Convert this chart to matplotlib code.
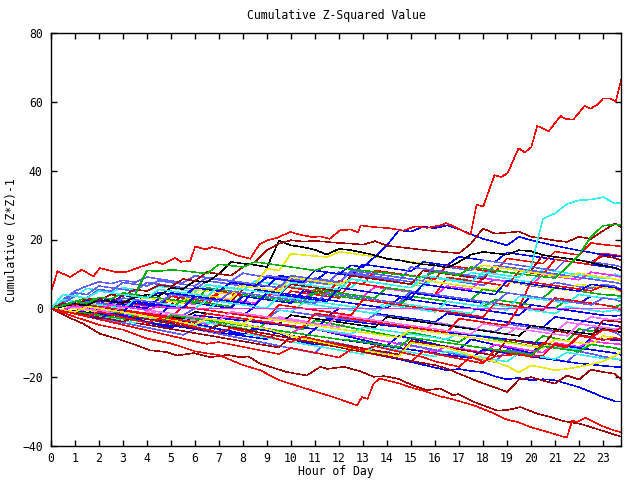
#!/bin/python3
"""
Cumulative (Z*Z)-1 per series over the hours of one day,
redrawn in the look of the old gnuplot png terminal.
"""
import numpy as np
import matplotlib
matplotlib.use("Agg")
import matplotlib.pyplot as plt

RED = "#ff0000"
GREEN = "#00b000"
BLUE = "#0000ff"
MAGENTA = "#ff30ff"
CYAN = "#30f0f0"
DARKRED = "#a00000"
YELLOW = "#e8e800"
BLACK = "#000000"
LIGHTBLUE = "#6060ff"
PINK = "#ff70ff"

# half hourly samples, last one at 23:45
half_hours = list(np.arange(0, 24, 0.5)) + [23.75]

# --- traced lines (own time stamps) ---
red_top_h = [0, 0.27, 0.79, 1.28, 1.77, 2.04, 2.68, 3.15, 3.71, 4.40, 4.66, 5.17, 5.41, 5.80, 6.01,
             6.45, 6.71, 7.24, 7.74, 8.30, 8.53, 8.72, 9.03, 9.42, 9.97, 10.42, 10.91, 11.21, 11.61,
             12.05, 12.50, 12.80, 12.90, 13.49, 14.09, 14.68, 15.18, 15.67, 16.23, 16.47, 16.86,
             17.48, 17.73, 18.01, 18.48, 18.75, 19.02, 19.48, 19.74, 20.01, 20.26, 20.74, 21.23,
             21.43, 21.76, 22.23, 22.48, 22.76, 23.01, 23.26, 23.53, 23.75]
red_top = [4.7, 10.8, 9.1, 11.2, 9.3, 11.7, 10.6, 10.6, 12.0, 13.5, 12.8, 14.7, 13.5, 13.8, 18.0,
           17.1, 17.8, 16.9, 15.4, 14.4, 17.0, 18.8, 19.8, 20.5, 22.2, 21.3, 20.7, 20.9, 20.2,
           22.7, 22.9, 22.0, 24.1, 23.6, 23.3, 22.6, 23.8, 23.4, 24.1, 24.8, 23.5,
           21.4, 30.1, 29.6, 38.7, 38.2, 39.2, 46.5, 45.3, 46.8, 53.0, 51.5, 55.9,
           55.1, 54.8, 58.8, 58.0, 59.2, 61.0, 61.0, 60.2, 66.3]

red_bottom_h = [0, 1, 2, 3, 4, 5, 6, 7, 8, 8.72, 9.52, 10.66, 11.77, 12.76, 12.95, 13.19, 13.44,
                13.69, 14.0, 14.5, 15.0, 15.5, 16.23, 16.67, 17.62, 18.31, 19.01, 19.44, 19.98,
                20.68, 21.49, 21.72, 21.92, 22.28, 22.90, 23.46, 23.75]
red_bottom = [0, -2.5, -4.8, -6.2, -8.8, -10.2, -12.5, -13.6, -16.5, -18.0, -20.9, -23.4, -25.8,
              -28.2, -25.8, -26.3, -21.9, -20.4, -20.9, -21.8, -23.0, -23.9, -25.6, -26.3, -28.2,
              -30.1, -32.4, -33.0, -34.5, -35.9, -37.6, -32.6, -33.0, -31.8, -34.0, -35.5, -36.0]

darkred_bottom_h = [0, 0.69, 1.35, 2.04, 2.74, 3.47, 4.13, 4.82, 5.25, 5.95, 6.64, 7.34, 7.89, 8.23,
                    8.72, 9.82, 10.66, 11.22, 11.51, 12.20, 12.90, 13.44, 13.89, 14.48, 15.08, 15.67,
                    16.23, 16.76, 16.96, 17.62, 18.59, 19.05, 19.56, 20.26, 20.82, 21.37, 22.07,
                    22.77, 23.75]
darkred_bottom = [0, -2.5, -4.5, -7.4, -8.8, -10.5, -12.2, -12.7, -13.7, -13.0, -14.2, -13.5, -14.2,
                  -14.0, -16.1, -18.5, -19.5, -17.0, -17.6, -17.0, -18.3, -19.9, -19.7, -20.5, -22.4,
                  -23.8, -23.3, -25.3, -24.9, -27.2, -29.7, -29.5, -28.7, -30.6, -31.6, -32.8, -33.6,
                  -35.1, -37.3]

# --- half hourly lines ---
cyan_top = [0, 4.0, 3.5, 3.0, 5.0, 4.5, 4.0, 3.5, 3.0, 5.5,
            5.0, 4.5, 4.0, 3.5, 6.5, 6.0, 5.5, 5.0, 4.5, 4.0,
            7.5, 7.0, 6.5, 6.0, 5.5, 8.5, 8.0, 7.5, 7.0, 6.5,
            6.0, 9.5, 9.0, 8.5, 8.0, 7.5, 10.5, 10.0, 9.5, 9.0,
            12.0, 26.0, 27.6, 30.3, 31.4, 31.6, 32.3, 30.5, 30.7]
lightblue_a = [0, 2.5, 5.0, 6.5, 7.7, 7.2, 8.1, 7.6, 9.1, 8.5,
               8.0, 7.4, 9.5, 8.9, 8.3, 7.9, 10.2, 9.6, 9.0, 8.4,
               7.9, 7.3, 8.8, 8.2, 7.6, 10.5, 9.9, 9.3, 8.8, 8.2,
               7.7, 7.1, 9.0, 8.4, 7.8, 7.2, 6.7, 8.4, 7.8, 7.2,
               6.6, 6.1, 7.5, 6.9, 6.3, 5.8, 7.0, 6.4, 5.5]
cyan_b = [0, 1.8, 3.5, 5.8, 5.2, 4.7, 6.0, 5.5, 5.0, 6.4,
          5.9, 5.3, 4.8, 6.9, 6.3, 5.8, 5.2, 8.0, 7.4, 6.9,
          6.3, 5.8, 7.7, 7.1, 6.6, 6.0, 9.2, 8.6, 8.1, 7.5,
          7.0, 6.4, 8.8, 8.3, 7.7, 10.4, 9.8, 9.2, 8.7, 8.1,
          7.6, 11.4, 10.8, 10.2, 9.7, 9.1, 8.6, 10.0, 9.4]
green_up = [0, 0.8, 2.0, 1.5, 3.2, 2.7, 4.5, 4.0, 11.0, 10.8,
            11.2, 10.9, 10.5, 10.1, 12.8, 12.4, 12.0, 13.5, 13.0, 12.5,
            12.0, 11.5, 11.0, 12.2, 11.8, 11.4, 11.0, 10.6, 10.2, 9.8,
            9.4, 9.0, 10.6, 10.2, 9.6, 12.0, 11.5, 11.0, 10.5, 10.0,
            9.6, 9.2, 8.8, 12.0, 15.5, 20.8, 24.0, 24.4, 24.1]
darkred_up = [0, 1.5, 1.0, 2.8, 2.3, 4.0, 3.5, 5.5, 5.0, 6.8,
              6.3, 8.5, 8.0, 10.5, 10.0, 9.5, 12.0, 13.5, 16.9, 18.8,
              19.8, 19.4, 19.6, 19.3, 19.0, 18.8, 18.5, 19.5, 18.2, 17.8,
              17.4, 17.0, 16.6, 16.3, 16.0, 18.8, 23.2, 21.7, 22.0, 22.3,
              20.8, 20.3, 19.7, 19.3, 20.8, 20.2, 22.5, 24.6, 23.7]
black_top = [0, 0.6, 1.2, 0.8, 2.5, 2.0, 1.6, 3.2, 4.0, 3.6,
             6.0, 5.6, 8.0, 7.6, 10.0, 13.5, 13.0, 12.6, 12.0, 19.6,
             18.3, 17.8, 17.0, 15.6, 17.3, 16.9, 16.2, 15.4, 14.4, 14.0,
             13.3, 12.8, 12.5, 11.8, 13.5, 15.6, 16.4, 16.0, 15.6, 16.9,
             16.6, 15.5, 14.9, 14.5, 14.0, 13.3, 12.5, 11.8, 11.0]
magenta_flat = [0, -0.5, 0.8, 0.3, -0.2, 1.0, 0.5, 0.0, -0.5, 0.6,
                0.1, 0.0, 0, 0, 0, 0, 0, 0, 0, 0,
                0, 0, 0, 0, 0, 0, 0, 0, 0, 0,
                0, 0, 0, 0, 0, 0, 0, 0, 0, 0,
                0, 0, 0, 0, 0, 0, 0, 0, 0]
blue_low = [0, -0.7, -1.5, -2.2, -3.0, -1.5, -2.0, -2.8, -4.0, -4.6,
            -5.5, -4.0, -4.6, -5.2, -6.0, -6.6, -7.5, -6.0, -6.5, -7.2,
            -9.0, -9.8, -10.5, -10.0, -10.8, -11.6, -12.4, -13.2, -14.0, -14.8,
            -15.6, -16.4, -17.2, -18.0, -17.6, -18.2, -18.5, -19.8, -20.6, -20.2,
            -20.9, -20.6, -20.9, -21.9, -22.9, -24.3, -25.8, -27.0, -27.0]
darkred_mid = [0, -0.6, -1.3, -1.9, -2.6, -3.2, -3.9, -2.5, -3.1, -3.8,
               -4.4, -5.1, -5.7, -6.4, -4.8, -5.5, -6.1, -6.8, -7.4, -8.1,
               -8.7, -9.4, -10.0, -10.7, -11.3, -12.0, -12.6, -13.3, -13.9, -14.6,
               -15.2, -15.9, -16.5, -17.5, -19.0, -20.4, -21.8, -23.0, -24.3, -20.7,
               -20.0, -21.0, -21.9, -19.5, -20.7, -17.8, -18.5, -19.0, -20.7]
yellow_low = [0, -0.5, -1.0, 0.5, 0.0, -0.6, -1.1, -1.7, -2.3, -2.9,
              -3.5, -4.1, -4.7, -3.0, -3.6, -4.2, -4.8, -5.4, -6.0, -7.0,
              -8.0, -8.8, -9.5, -10.2, -10.9, -11.6, -12.2, -12.8, -13.4, -13.9,
              -10.0, -10.5, -11.0, -11.4, -12.5, -13.7, -14.6, -15.6, -16.8, -18.6,
              -16.6, -17.2, -18.0, -17.6, -17.0, -16.3, -15.4, -13.8, -12.7]
red_mid = [0, -0.8, -1.6, -2.4, -1.0, -1.8, -2.6, -3.4, -4.2, -3.0,
           -3.8, -4.6, -5.4, -6.2, -7.0, -5.8, -6.6, -7.4, -8.2, -9.0,
           -9.8, -8.2, -9.0, -9.8, -10.6, -11.4, -12.2, -11.0, -11.8, -12.6,
           -13.4, -14.2, -15.4, -16.2, -17.0, -14.0, -15.6, -14.0, -13.6, -13.3,
           -14.0, -13.7, -10.3, -11.0, -8.0, -8.6, -6.2, -6.8, -5.4]
blue_a = [0, 1.2, 0.7, 2.5, 2.0, 1.5, 3.8, 3.3, 2.8, 4.6,
          4.1, 3.6, 5.5, 5.0, 4.5, 7.8, 7.3, 6.8, 6.3, 9.5,
          9.0, 8.5, 8.0, 10.5, 10.0, 9.5, 12.8, 12.3, 11.8, 11.3,
          10.8, 13.5, 13.0, 12.5, 15.0, 14.5, 14.0, 13.5, 16.2, 15.7,
          15.2, 14.7, 14.2, 13.7, 13.2, 12.7, 12.2, 11.7, 11.0]
magenta_a = [0, 0.5, 1.2, 0.8, 0.3, 2.0, 1.5, 1.0, 0.6, 2.6,
             2.1, 1.6, 1.2, 3.5, 3.0, 2.5, 2.0, 1.5, 4.2, 3.7,
             3.2, 2.7, 5.5, 5.0, 4.5, 4.0, 3.5, 6.2, 5.7, 5.2,
             4.7, 4.2, 3.7, 6.5, 6.0, 5.5, 8.8, 8.3, 7.8, 7.3,
             6.8, 9.8, 9.3, 8.8, 8.3, 10.5, 10.0, 9.5, 9.1]
red_a = [0, -0.5, 1.5, 1.0, 0.5, 2.8, 2.3, 1.8, 1.3, 0.8,
         3.5, 3.0, 2.5, 2.0, 5.0, 4.5, 4.0, 3.5, 3.0, 6.5,
         6.0, 5.5, 5.0, 4.5, 8.0, 7.5, 7.0, 11.0, 10.5, 10.0,
         9.5, 9.0, 8.5, 12.5, 12.0, 11.5, 11.0, 10.5, 14.5, 14.0,
         13.5, 13.0, 16.5, 16.0, 15.5, 19.0, 18.5, 18.2, 18.0]
darkred_a = [0, 0.8, 0.3, -0.2, 1.5, 1.0, 0.5, 2.5, 2.0, 1.5,
             1.0, 4.0, 3.5, 3.0, 2.5, 2.0, 5.5, 5.0, 4.5, 4.0,
             7.0, 6.5, 6.0, 5.5, 5.0, 9.5, 9.0, 8.5, 8.0, 7.5,
             7.0, 11.0, 10.5, 10.0, 9.5, 9.0, 8.5, 12.5, 12.0, 11.5,
             11.0, 15.5, 15.0, 14.5, 14.0, 13.5, 15.2, 14.6, 14.0]
red_b = [0, -0.6, -1.2, 0.5, 0.0, -0.5, 1.8, 1.3, 0.8, 0.3,
         2.5, 2.0, 1.5, 1.0, 4.5, 4.0, 3.5, 3.0, 2.5, 2.0,
         5.0, 4.5, 4.0, 3.5, 3.0, 7.5, 7.0, 6.5, 6.0, 5.5,
         5.0, 4.5, 4.0, 9.0, 8.5, 8.0, 7.5, 7.0, 6.5, 10.8,
         10.3, 9.8, 14.2, 13.7, 13.2, 12.7, 16.0, 15.5, 15.1]
lightblue_b = [0, 2.0, 4.5, 4.0, 6.5, 6.0, 5.5, 5.0, 7.5, 7.0,
               6.5, 6.0, 5.5, 8.0, 7.5, 7.0, 6.5, 6.0, 9.5, 9.0,
               8.5, 8.0, 7.5, 7.0, 10.5, 10.0, 9.5, 9.0, 8.5, 8.0,
               12.0, 11.5, 11.0, 10.5, 10.0, 9.5, 9.0, 12.5, 12.0, 11.5,
               11.0, 10.5, 10.0, 9.5, 9.0, 8.5, 8.0, 7.5, 7.1]
yellow_a = [0, 0.8, 1.6, 1.1, 2.5, 2.0, 1.5, 3.5, 3.0, 2.5,
            2.0, 1.5, 4.2, 3.7, 3.2, 2.7, 6.5, 6.0, 5.5, 5.0,
            9.0, 8.5, 8.0, 7.5, 7.0, 8.5, 8.0, 7.5, 7.0, 6.5,
            6.0, 8.2, 7.7, 7.2, 6.7, 6.2, 5.7, 5.2, 7.8, 7.3,
            6.8, 6.3, 5.8, 5.3, 7.0, 6.5, 6.0, 5.5, 5.0]
green_a = [0, -0.5, -1.0, 0.8, 0.3, -0.2, -0.7, 1.5, 1.0, 0.5,
           0.0, 2.5, 2.0, 1.5, 1.0, 0.5, 4.0, 3.5, 3.0, 2.5,
           2.0, 1.5, 5.5, 5.0, 4.5, 4.0, 3.5, 3.0, 6.0, 5.5,
           5.0, 4.5, 4.0, 3.5, 3.0, 2.5, 5.5, 5.0, 4.5, 4.0,
           3.5, 3.0, 6.0, 5.5, 5.0, 4.5, 4.0, 3.8, 3.5]
blue_b = [0, 1.0, 0.5, 0.0, -0.5, 1.5, 1.0, 0.5, 0.0, 3.0,
          2.5, 2.0, 1.5, 1.0, 0.5, 0.0, 3.5, 3.0, 2.5, 2.0,
          1.5, 5.0, 4.5, 4.0, 3.5, 3.0, 2.5, 2.0, 1.5, 1.0,
          4.5, 4.0, 3.5, 3.0, 2.5, 2.0, 1.5, 1.0, 0.5, 0.0,
          3.5, 3.0, 2.5, 2.0, 1.5, 3.5, 3.0, 2.5, 2.0]
cyan_c = [0, 2.5, 2.0, 1.5, 1.0, 0.5, 3.0, 2.5, 2.0, 1.5,
          1.0, 0.5, 0.0, 2.5, 2.0, 1.5, 1.0, 0.5, 0.0, 3.5,
          3.0, 2.5, 2.0, 1.5, 1.0, 0.5, 0.0, -0.5, 2.0, 1.5,
          1.0, 0.5, 0.0, -0.5, -1.0, -1.5, 1.5, 1.0, 0.5, 0.0,
          -0.5, -1.0, -1.5, 0.5, 0.0, -0.5, -1.0, -0.5, -1.0]
pink_a = [0, -0.6, -1.2, -1.8, -0.5, -1.1, -1.7, -2.3, -1.0, -1.6,
          -2.2, -2.8, -3.4, -1.5, -2.1, -2.7, -3.3, -3.9, -4.5, -2.5,
          -3.1, -3.7, -4.3, -4.9, -5.5, -3.0, -3.6, -4.2, -4.8, -5.4,
          -6.0, -6.6, -4.0, -4.6, -5.2, -5.8, -6.4, -7.0, -7.6, -5.0,
          -5.6, -6.2, -6.8, -4.0, -4.6, -2.5, -3.0, -3.5, -3.0]
blue_c = [0, -0.5, -1.0, -1.5, 0.5, 0.0, -0.5, -1.0, -1.5, -2.0,
          1.0, 0.5, 0.0, -0.5, -1.0, -1.5, -2.0, 0.5, 0.0, -0.5,
          -1.0, -1.5, -2.0, -2.5, 0.0, -0.5, -1.0, -1.5, -2.0, -2.5,
          -3.0, -3.5, -4.0, -1.5, -2.0, -2.5, -3.0, -3.5, -4.0, -4.5,
          -5.0, -5.5, -2.5, -3.0, -3.5, -4.0, -4.5, -5.0, -5.4]
green_b = [0, -0.7, -1.4, -2.1, -2.8, -1.0, -1.7, -2.4, -3.1, -3.8,
           -4.5, -5.2, -5.9, -6.6, -4.5, -5.2, -5.9, -6.6, -4.0, -4.7,
           -5.4, -6.1, -3.5, -4.2, -4.9, -5.6, -6.3, -7.0, -7.7, -8.4,
           -7.0, -7.7, -8.4, -9.1, -9.8, -7.5, -8.2, -8.9, -9.6, -10.3,
           -11.0, -8.0, -8.7, -9.4, -6.0, -6.7, -5.5, -6.2, -6.0]
lightblue_c = [0, 0.5, 0.0, -0.5, -1.0, 1.0, 0.5, 0.0, -0.5, -1.0,
               -1.5, -2.0, 0.0, -0.5, -1.0, -1.5, -2.0, -2.5, -3.0, -0.5,
               -1.0, -1.5, -2.0, -2.5, -3.0, -3.5, -4.0, -1.8, -2.3, -2.8,
               -3.3, -3.8, -4.3, -4.8, -5.3, -5.8, -6.3, -6.8, -4.5, -5.0,
               -5.5, -6.0, -6.5, -7.0, -7.5, -5.5, -6.0, -7.0, -8.0]
blue_d = [0, -0.8, -1.6, -2.4, -3.2, -4.0, -2.5, -3.3, -4.1, -4.9,
          -5.7, -3.8, -4.6, -5.4, -6.2, -7.0, -7.8, -5.5, -6.3, -7.1,
          -7.9, -8.7, -6.0, -6.8, -7.6, -8.4, -9.2, -10.0, -10.8, -8.0,
          -8.8, -9.6, -10.4, -11.2, -12.0, -9.0, -9.8, -10.6, -11.4, -12.2,
          -13.0, -10.0, -10.8, -11.6, -12.4, -8.5, -9.0, -9.2, -9.3]
magenta_b = [0, -0.6, -1.2, -0.2, -0.8, -1.4, -2.0, -1.0, -1.6, -2.2,
             -2.8, -3.4, -4.0, -4.6, -3.5, -4.1, -4.7, -5.3, -5.9, -6.5,
             -7.1, -5.5, -6.1, -6.7, -7.3, -7.9, -8.5, -9.1, -9.7, -10.3,
             -10.9, -11.5, -12.7, -11.0, -11.6, -12.2, -12.8, -10.5, -11.1, -11.7,
             -12.3, -12.9, -10.0, -10.6, -11.2, -9.5, -10.0, -10.3, -10.5]
cyan_d = [0, -0.5, -1.0, -1.5, -2.0, -2.5, -3.0, -1.2, -1.7, -2.2,
          -2.7, -3.2, -3.7, -4.2, -4.7, -5.2, -3.0, -3.5, -4.0, -4.5,
          -5.0, -5.5, -6.0, -6.5, -7.0, -7.5, -5.5, -6.0, -6.5, -7.0,
          -7.5, -8.0, -8.5, -9.0, -7.0, -7.5, -8.0, -8.5, -9.0, -9.5,
          -10.0, -10.5, -11.0, -11.5, -12.0, -10.5, -11.0, -11.5, -12.0]
blue_e = [0, -0.4, -0.8, -1.2, -1.6, -2.0, -2.4, -2.8, -3.2, -3.6,
          -4.0, -4.4, -2.0, -2.4, -2.8, -3.2, -3.6, -4.0, -4.4, -4.8,
          -5.2, -5.6, -6.0, -3.0, -3.4, -3.8, -4.2, -4.6, -5.0, -5.4,
          -5.8, -6.2, -6.6, -7.0, -7.4, -7.8, -8.2, -8.6, -9.0, -9.4,
          -9.8, -10.2, -10.6, -11.0, -11.5, -12.0, -12.5, -13.0, -13.5]
lightblue_d = [0, -0.7, -1.4, -2.1, -2.8, -3.5, -4.2, -4.9, -5.6, -6.3,
               -7.0, -7.7, -6.0, -6.7, -7.4, -8.1, -8.8, -9.5, -10.2, -10.9,
               -11.6, -12.3, -13.0, -9.5, -10.2, -10.9, -11.6, -12.3, -13.0, -10.0,
               -10.7, -11.4, -12.1, -12.8, -13.5, -14.2, -14.9, -15.6, -12.0, -12.7,
               -13.4, -14.1, -14.8, -15.5, -12.5, -13.2, -14.0, -14.6, -15.1]
blue_f = [0, -0.5, -1.0, -1.5, -2.0, -2.5, -3.0, -3.5, -4.0, -4.5,
          -5.0, -5.5, -6.0, -6.5, -7.0, -7.5, -8.0, -8.5, -9.0, -6.5,
          -7.0, -7.5, -8.0, -8.5, -9.0, -9.5, -10.0, -10.5, -11.0, -11.5,
          -12.0, -12.5, -13.0, -13.5, -14.0, -14.5, -12.0, -12.5, -13.0, -13.5,
          -14.0, -14.5, -15.0, -15.5, -16.0, -16.3, -16.7, -17.0, -17.0]
yellow_b = [0, 0.5, 1.5, 1.0, 0.5, 2.5, 2.0, 1.5, 3.5, 3.0,
            2.5, 2.0, 5.5, 5.0, 4.5, 4.0, 7.5, 7.0, 11.5, 11.0,
            15.9, 15.5, 15.2, 14.9, 16.4, 16.0, 15.5, 15.0, 14.5, 14.0,
            13.5, 13.0, 12.5, 12.0, 11.5, 11.0, 12.5, 12.0, 11.5, 11.0,
            10.5, 10.0, 9.5, 9.0, 10.2, 9.6, 9.0, 8.5, 8.0]
black_a = [0, -0.5, -1.0, -1.5, 0.5, 0.0, -0.5, -1.0, -1.5, -2.0,
           -2.5, -3.0, -1.0, -1.5, -2.0, -2.5, -3.0, -3.5, -4.0, -4.5,
           -2.0, -2.5, -3.0, -3.5, -4.0, -4.5, -5.0, -5.5, -2.5, -3.0,
           -3.5, -4.0, -4.5, -5.0, -5.5, -6.0, -6.5, -7.0, -7.5, -8.0,
           -5.0, -5.5, -6.0, -6.5, -7.0, -7.5, -6.0, -6.5, -7.0]
green_c = [0, 1.0, 2.0, 3.0, 2.5, 2.0, 1.5, 4.0, 3.5, 3.0,
           2.5, 2.0, 1.5, 6.0, 5.5, 5.0, 4.5, 4.0, 3.5, 3.0,
           2.5, 2.0, 4.5, 4.0, 3.5, 3.0, 2.5, 2.0, 1.5, 1.0,
           3.5, 3.0, 2.5, 2.0, 1.5, 1.0, 0.5, 2.5, 2.0, 1.5,
           1.0, 0.5, 0.0, 2.5, 2.0, 1.5, 1.0, 0.5, 1.0]
blue_g = [0, 1.5, 1.0, 0.5, 3.0, 2.5, 2.0, 1.5, 1.0, 0.5,
          4.5, 4.0, 3.5, 3.0, 2.5, 2.0, 1.5, 5.5, 5.0, 4.5,
          4.0, 3.5, 3.0, 2.5, 2.0, 1.5, 1.0, 0.5, 0.0, 3.0,
          2.5, 2.0, 1.5, 1.0, 0.5, 0.0, -0.5, -1.0, -1.5, -2.0,
          1.0, 0.5, 0.0, -0.5, -1.0, -1.5, -2.0, -2.2, -2.0]
red_c = [0, -0.5, -1.0, -1.5, -2.0, -2.5, -1.0, -1.5, -2.0, -2.5,
         -3.0, -3.5, -4.0, -1.5, -2.0, -2.5, -3.0, -3.5, -4.0, -4.5,
         -5.0, -5.5, -1.5, -2.0, -2.5, -3.0, -3.5, -4.0, -4.5, -5.0,
         -5.5, -6.0, -6.5, -7.0, -3.0, -3.5, -4.0, -4.5, -5.0, 0.4,
         7.6, 7.1, 6.6, 6.1, 5.6, 5.1, 6.5, 6.0, 5.0]
lightblue_e = [0, 1.5, 3.5, 3.0, 5.5, 5.0, 7.5, 7.0, 6.5, 8.0,
               7.5, 7.0, 6.5, 9.0, 8.5, 8.0, 7.5, 7.0, 6.5, 6.0,
               9.5, 9.0, 8.5, 8.0, 7.5, 11.0, 10.5, 10.0, 9.5, 9.0,
               8.5, 8.0, 12.5, 12.0, 11.5, 11.0, 14.0, 13.5, 13.0, 12.5,
               12.0, 11.5, 11.0, 14.5, 14.0, 13.5, 13.0, 12.5, 12.0]
darkred_b = [0, -0.6, -1.2, -1.8, -2.4, -3.0, -3.6, -4.2, -4.8, -5.4,
             -6.0, -6.6, -7.2, -7.8, -8.4, -9.0, -9.6, -10.2, -10.8, -11.4,
             -8.0, -8.6, -9.2, -9.8, -10.4, -11.0, -11.6, -12.2, -12.8, -13.4,
             -9.5, -10.1, -10.7, -11.3, -11.9, -12.5, -13.1, -13.7, -9.0, -9.6,
             -10.2, -10.8, -6.5, -7.1, -7.7, -8.3, -3.5, -3.8, -4.0]
yellow_c = [0, 0.5, 0.0, -0.5, -1.0, 1.0, 0.5, 0.0, -0.5, -1.0,
            -1.5, -2.0, -2.5, -3.0, -3.5, -4.0, -4.5, -2.5, -3.0, -3.5,
            -4.0, -4.5, -5.0, -5.5, -6.0, -6.5, -7.0, -7.5, -8.0, -8.5,
            -6.0, -6.5, -7.0, -7.5, -8.0, -8.5, -9.0, -9.5, -10.0, -10.5,
            -11.0, -11.5, -9.0, -9.5, -10.0, -10.5, -8.0, -8.5, -9.0]
cyan_e = [0, 0.5, 2.0, 1.5, 1.0, 0.5, 0.0, 2.5, 2.0, 1.5,
          1.0, 0.5, 0.0, -0.5, 2.0, 1.5, 1.0, 0.5, 0.0, -0.5,
          -1.0, 1.5, 1.0, 0.5, 0.0, -0.5, -1.0, -1.5, 1.0, 0.5,
          0.0, -0.5, -1.0, 2.0, 1.5, 1.0, 0.5, 0.0, -0.5, 3.5,
          3.0, 2.5, 2.0, 1.5, 4.0, 3.5, 3.0, 2.8, 3.0]
blue_h = [0, 0.5, 1.5, 1.0, 2.5, 2.0, 1.5, 3.5, 3.0, 4.5,
          4.0, 3.5, 6.0, 5.5, 5.0, 7.5, 7.0, 6.5, 9.0, 8.5,
          8.0, 7.5, 11.0, 10.5, 10.0, 12.5, 12.0, 15.0, 18.3, 22.7,
          22.3, 23.7, 23.3, 24.1, 23.0, 21.5, 20.2, 19.3, 18.3, 20.8,
          19.8, 19.0, 18.2, 17.5, 16.8, 16.2, 15.6, 15.2, 15.0]
cyan_f = [0, -0.6, -1.2, -1.8, -2.4, -3.0, -3.6, -4.2, -2.5, -3.1,
          -3.7, -4.3, -4.9, -5.5, -6.1, -6.7, -7.3, -7.9, -8.5, -9.1,
          -9.7, -10.3, -10.9, -11.5, -12.1, -12.7, -13.3, -11.0, -11.6, -12.2,
          -12.8, -13.4, -14.0, -12.5, -13.1, -13.7, -14.3, -14.9, -15.5, -13.0,
          -13.6, -14.2, -14.8, -12.8, -13.4, -14.0, -14.5, -14.7, -14.9]
red_d = [0, -0.8, -1.6, -2.4, -3.2, -4.0, -4.8, -5.6, -6.4, -7.2,
         -8.0, -8.8, -9.6, -10.3, -9.8, -10.5, -11.2, -11.9, -12.6, -13.3,
         -11.5, -12.2, -12.9, -13.6, -14.3, -12.0, -12.7, -13.4, -14.1, -14.8,
         -15.5, -12.5, -13.2, -13.9, -14.6, -15.3, -16.0, -12.0, -12.7, -13.4,
         -14.1, -10.0, -10.7, -11.4, -8.0, -8.5, -9.2, -8.6, -9.0]
red_e = [0, -0.5, -1.0, 1.0, 0.5, 0.0, -0.5, -1.0, -1.5, -2.0,
         -2.5, 0.5, 0.0, -0.5, -1.0, -1.5, -2.0, -2.5, -3.0, 1.0,
         0.5, 0.0, -0.5, -1.0, -1.5, -2.0, 2.5, 2.0, 1.5, 1.0,
         0.5, 0.0, -0.5, -1.0, -1.5, -2.0, -2.5, 1.5, 1.0, 0.5,
         0.0, -0.5, 3.0, 2.5, 2.0, 1.5, 1.0, 0.3, -0.5]
lightblue_f = [0, 1.0, 0.5, 2.0, 1.5, 1.0, 3.0, 2.5, 2.0, 1.5,
               4.0, 3.5, 3.0, 2.5, 2.0, 5.0, 4.5, 4.0, 3.5, 3.0,
               2.5, 2.0, 1.5, 4.5, 4.0, 3.5, 3.0, 2.5, 2.0, 1.5,
               5.0, 4.5, 4.0, 3.5, 3.0, 2.5, 2.0, 1.5, 4.5, 4.0,
               3.5, 3.0, 2.5, 2.0, 1.5, 1.0, 3.0, 2.5, 2.0]
green_d = [0, -0.5, -1.0, -1.5, -2.0, -2.5, -3.0, -3.5, -4.0, -4.5,
           -2.0, -2.5, -3.0, -3.5, -4.0, -4.5, -5.0, -5.5, -6.0, -6.5,
           -7.0, -7.5, -8.0, -8.5, -9.0, -9.3, -9.8, -10.3, -10.8, -11.3,
           -8.5, -9.0, -9.5, -10.0, -10.5, -11.0, -11.5, -12.0, -12.5, -13.0,
           -13.5, -11.0, -11.5, -12.0, -12.5, -10.5, -11.0, -11.5, -12.0]
pink_b = [0, 0.8, 0.3, -0.2, -0.7, -1.2, 0.5, 0.0, -0.5, -1.0,
          -1.5, -2.0, -2.5, -3.0, -3.5, -1.0, -1.5, -2.0, -2.5, -3.0,
          -3.5, -4.0, -4.5, -5.0, -2.0, -2.5, -3.0, -3.5, -4.0, -4.5,
          -5.0, -5.5, -6.0, -6.5, -7.0, -7.5, -4.5, -5.0, -5.5, -6.0,
          -6.5, -7.0, -7.5, -8.0, -4.5, -5.0, -5.5, -6.0, -6.0]
blue_i = [0, -0.5, -1.0, 0.5, 0.0, -0.5, -1.0, 2.0, 1.5, 1.0,
          0.5, 0.0, 3.5, 3.0, 2.5, 2.0, 1.5, 1.0, 4.5, 4.0,
          3.5, 3.0, 2.5, 2.0, 6.0, 5.5, 5.0, 4.5, 4.0, 3.5,
          3.0, 7.0, 6.5, 6.0, 5.5, 5.0, 4.5, 4.0, 8.0, 7.5,
          7.0, 6.5, 6.0, 5.5, 5.0, 7.0, 6.5, 6.0, 5.5]


def all_lines():
    half = [
        (lightblue_a, LIGHTBLUE), (cyan_b, CYAN), (blue_a, BLUE), (magenta_a, MAGENTA),
        (red_a, RED), (darkred_a, DARKRED), (red_b, RED), (lightblue_b, LIGHTBLUE),
        (yellow_a, YELLOW), (green_a, GREEN), (blue_b, BLUE), (cyan_c, CYAN),
        (pink_a, PINK), (blue_c, BLUE), (green_b, GREEN), (lightblue_c, LIGHTBLUE),
        (blue_d, BLUE), (magenta_b, MAGENTA), (cyan_d, CYAN), (blue_e, BLUE),
        (lightblue_d, LIGHTBLUE), (blue_f, BLUE), (yellow_b, YELLOW), (black_a, BLACK),
        (green_c, GREEN), (blue_g, BLUE), (red_c, RED), (lightblue_e, LIGHTBLUE),
        (darkred_b, DARKRED), (yellow_c, YELLOW), (cyan_e, CYAN), (blue_h, BLUE),
        (cyan_f, CYAN), (red_d, RED), (red_e, RED), (lightblue_f, LIGHTBLUE),
        (green_d, GREEN), (pink_b, PINK), (blue_i, BLUE),
        (magenta_flat, MAGENTA), (blue_low, BLUE), (darkred_mid, DARKRED),
        (yellow_low, YELLOW), (red_mid, RED), (black_top, BLACK), (darkred_up, DARKRED),
        (green_up, GREEN), (cyan_top, CYAN),
    ]
    lines = [(half_hours, vals, col) for vals, col in half]
    lines += [
        (darkred_bottom_h, darkred_bottom, DARKRED),
        (red_bottom_h, red_bottom, RED),
        (red_top_h, red_top, RED),
    ]
    return lines


def main():
    plt.rcParams["font.family"] = "DejaVu Sans Mono"
    fs = 8.3

    fig = plt.figure(figsize=(6.4, 4.8), dpi=100)
    ax = fig.add_axes([51 / 640, 34 / 480, 570 / 640, 413 / 480])

    for hours, vals, col in all_lines():
        if len(hours) != len(vals):
            raise ValueError(f"length mismatch {len(hours)} vs {len(vals)}")
        ax.plot(hours, vals, color=col, lw=0.35, antialiased=False)

    ax.set_xlim(0, 23.75)
    ax.set_ylim(-40, 80)
    ax.set_xticks(range(24))
    ax.set_yticks(range(-40, 81, 20))
    ax.tick_params(direction="in", top=True, right=True, length=4, width=1,
                   labelsize=fs, colors="black")
    ax.tick_params(axis="x", pad=4)
    ax.tick_params(axis="y", pad=6)
    for sp in ax.spines.values():
        sp.set_linewidth(1)
        sp.set_color("black")

    fig.text(336 / 640, 1 - 16 / 480, "Cumulative Z-Squared Value", fontsize=fs,
             ha="center", va="center")
    fig.text(336 / 640, 1 - 472 / 480, "Hour of Day", fontsize=fs,
             ha="center", va="center")
    fig.text(12 / 640, 1 - 240 / 480, "Cumulative (Z*Z)-1", fontsize=fs,
             ha="center", va="center", rotation=90)

    fig.savefig("out.png", dpi=100)
    plt.close(fig)


if __name__ == "__main__":
    main()
